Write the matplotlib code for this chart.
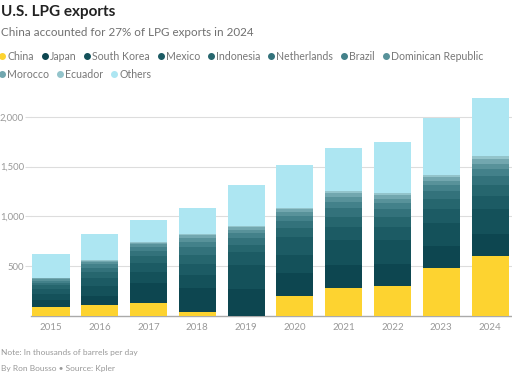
import numpy as np
import matplotlib.pyplot as plt
from matplotlib.lines import Line2D

plt.rcParams['font.family'] = ['Lato', 'DejaVu Sans']

years = ['2015', '2016', '2017', '2018', '2019', '2020', '2021', '2022', '2023', '2024']
countries = ['China', 'Japan', 'South Korea', 'Mexico', 'Indonesia', 'Netherlands',
             'Brazil', 'Dominican Republic', 'Morocco', 'Ecuador', 'Others']

china = [87, 107, 130, 43, 0, 201, 278, 302, 479, 606]
japan = [70, 93, 197, 234, 270, 229, 234, 220, 228, 218]
south_korea = [65, 100, 110, 130, 244, 184, 250, 240, 225, 248]
mexico = [50, 80, 95, 120, 124, 184, 134, 134, 144, 134]
indonesia = [35, 60, 70, 90, 80, 85, 100, 95, 95, 110]
netherlands = [28, 45, 55, 75, 65, 70, 85, 80, 80, 90]
brazil = [20, 35, 40, 55, 50, 55, 65, 60, 62, 70]
dominican = [14, 25, 25, 40, 35, 40, 50, 48, 48, 55]
morocco = [10, 12, 12, 25, 25, 25, 35, 32, 34, 45]
ecuador = [6, 6, 6, 12, 15, 16, 25, 22, 22, 32]
others = [235, 257, 225, 261, 409, 425, 432, 516, 576, 583]

series = [china, japan, south_korea, mexico, indonesia, netherlands,
          brazil, dominican, morocco, ecuador, others]
colors = ['#fdd330', '#0d4650', '#14515a', '#1c5b64', '#26666e', '#33727b',
          '#43818a', '#58929a', '#72a7af', '#93c4cb', '#ade6f2']

fig = plt.figure(figsize=(5.12, 3.73), dpi=100)
ax = fig.add_axes([31 / 512, 1 - 316 / 373, 481 / 512, 219 / 373])

x = np.arange(len(years))
bottom = np.zeros(len(years))
for vals, c in zip(series, colors):
    ax.bar(x, vals, width=0.76, bottom=bottom, color=c, linewidth=0, zorder=3)
    bottom += np.array(vals)

ax.set_xlim(-0.41, 9.45)
ax.set_ylim(0, 2200)
ax.set_yticks([500, 1000, 1500, 2000])
ax.set_yticklabels(['500', '1,000', '1,500', '2,000'])
ax.set_xticks(x)
ax.set_xticklabels(years)
ax.grid(axis='y', color='#dddddd', linewidth=0.8, zorder=0)
for s in ['top', 'right', 'left']:
    ax.spines[s].set_visible(False)
ax.spines['bottom'].set_color('#aaaaaa')
ax.spines['bottom'].set_linewidth(1.0)
ax.tick_params(axis='y', length=4, color='#dddddd', labelsize=6.8, labelcolor='#999999', pad=1)
ax.tick_params(axis='x', length=0, labelsize=7, labelcolor='#999999', pad=5)

fig.text(0.002, 1 - 12 / 373, 'U.S. LPG exports', fontsize=11, fontweight='bold',
         color='#222222', va='center')
fig.text(0.002, 1 - 32 / 373, 'China accounted for 27% of LPG exports in 2024',
         fontsize=8.4, color='#707070', va='center')

# legend, two rows
renderer = fig.canvas.get_renderer()
rows = [countries[:8], countries[8:]]
row_y = [56, 74]
k = 0
for r, names in enumerate(rows):
    xp = 2.0
    yf = 1 - row_y[r] / 373
    for name in names:
        fig.add_artist(Line2D([xp / 512], [yf], marker='o', markersize=4,
                              color=colors[k], linestyle='none', transform=fig.transFigure))
        t = fig.text((xp + 5) / 512, yf, name, fontsize=7.6, color='#777777', va='center')
        w = t.get_window_extent(renderer).width
        xp += 5 + w + 11
        k += 1

fig.text(0.002, 1 - 352 / 373, 'Note: In thousands of barrels per day',
         fontsize=6, color='#999999', va='center')
fig.text(0.002, 1 - 368 / 373, 'By Ron Bousso \u2022 Source: Kpler',
         fontsize=6, color='#999999', va='center')

fig.savefig('out.png', dpi=100, facecolor='white')
